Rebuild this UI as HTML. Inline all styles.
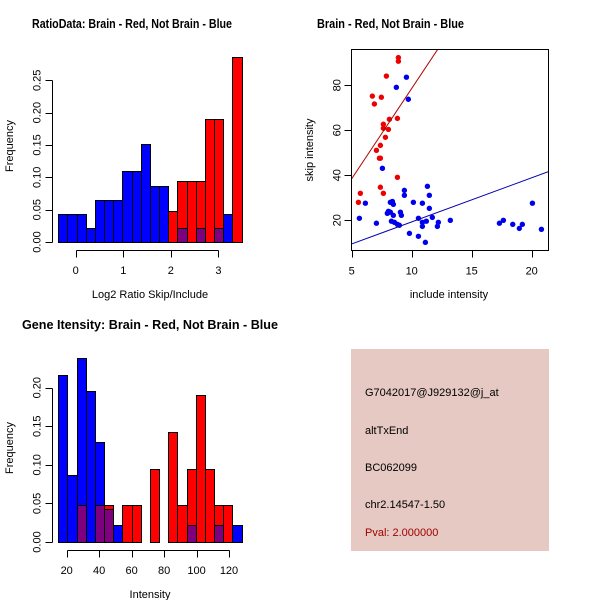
<!DOCTYPE html>
<html><head><meta charset="utf-8"><style>
html,body{margin:0;padding:0;background:#fff;}
svg{display:block;font-family:"Liberation Sans",sans-serif;}
</style></head><body>
<svg id="c" width="600" height="600" viewBox="0 0 600 600" xmlns="http://www.w3.org/2000/svg">
<rect width="600" height="600" fill="#fff"/>
<text x="32" y="28" font-size="12.5" font-weight="bold" textLength="200" lengthAdjust="spacingAndGlyphs">RatioData: Brain - Red, Not Brain - Blue</text>
<text x="317" y="28" font-size="12.5" font-weight="bold" textLength="147" lengthAdjust="spacingAndGlyphs">Brain - Red, Not Brain - Blue</text>
<text x="22" y="329" font-size="12.5" font-weight="bold" textLength="256" lengthAdjust="spacingAndGlyphs">Gene Itensity: Brain - Red, Not Brain - Blue</text>
<g>
<rect x="351" y="349" width="198" height="202" fill="#e5c9c2"/>
<text x="365" y="396" font-size="11">G7042017@J929132@j_at</text>
<text x="365" y="434" font-size="11">altTxEnd</text>
<text x="365" y="471" font-size="11">BC062099</text>
<text x="365" y="508" font-size="11">chr2.14547-1.50</text>
<text x="365" y="536" font-size="11" fill="#a00000">Pval: 2.000000</text>
</g>
</svg>
<script>
// ---- Ratio histogram data ----
const ratioBinStart = -0.366;
const ratioBinWidth = 0.1927;
const ratioBlue = [0.043,0.043,0.043,0.022,0.065,0.065,0.065,0.109,0.109,0.152,0.087,0.087,0,0.022,0,0.022,0,0.022,0.043,0];
const ratioRed  = [0,0,0,0,0,0,0,0,0,0,0,0,0.048,0.095,0.095,0.095,0.19,0.19,0,0.286];
const ratioXTicks = [0,1,2,3];
const ratioYTicks = [0,0.05,0.10,0.15,0.20,0.25];
const ratioYLabels = ["0.00","0.05","0.10","0.15","0.20","0.25"];
// ---- Intensity histogram data ----
const intBinStart = 14.8;
const intBinWidth = 5.65;
const intBlue = [0.217,0.087,0.239,0.196,0.130,0.043,0.022,0,0,0,0,0,0,0,0.022,0,0,0.022,0,0.022];
const intRed  = [0,0,0.048,0,0.048,0.048,0,0.048,0.048,0,0.095,0,0.143,0.048,0.095,0.19,0.095,0.048,0.048,0];
const intXTicks = [20,40,60,80,100,120];
const intYTicks = [0,0.05,0.10,0.15,0.20];
const intYLabels = ["0.00","0.05","0.10","0.15","0.20"];
// ---- Scatter data ----
const redX = [8.89,8.89,7.89,6.72,7.47,6.89,8.14,8.81,7.64,7.64,8.06,7.81,7.39,7.06,7.31,7.39,8.81,7.39,7.64,5.72,5.56];
const redY = [92.3,90.7,84.1,75.2,74.7,71.7,64.9,65.3,62.7,60.9,60.4,56.9,53.3,51.1,47.6,47.6,39.1,34.7,32.0,32.0,28.0];
const blueX = [9.56,8.72,9.72,7.56,11.31,9.39,9.39,11.47,10.14,10.89,8.22,8.39,8.47,6.14,11.47,8.06,8.22,7.97,9.06,9.14,8.47,11.72,5.64,10.56,13.22,10.89,11.22,12.22,7.06,8.31,8.56,8.81,8.97,10.89,12.14,9.81,10.56,11.14,17.31,17.64,18.42,18.97,19.22,20.06,20.81];
const blueY = [83.6,79.1,73.8,43.1,35.1,33.3,31.1,31.1,28.0,27.6,28.0,28.4,27.1,27.6,25.3,24.0,23.6,23.1,23.6,22.2,22.2,21.3,20.9,20.9,20.0,19.1,19.6,19.1,18.7,19.6,19.1,18.2,17.8,17.3,17.3,14.2,12.9,10.2,18.7,20.0,18.2,16.4,18.2,27.6,16.0];
const redFit = [38.5, 8.02];   // intercept at x=5, slope
const blueFit = [9.5, 1.96];
const scXTicks = [5,10,15,20];
const scYTicks = [20,40,60,80];

const NS="http://www.w3.org/2000/svg";
const svg=document.getElementById('c');
function mk(tag,attrs,parent){const e=document.createElementNS(NS,tag);for(const k in attrs)e.setAttribute(k,attrs[k]);(parent||svg).appendChild(e);return e;}
const px=v=>Math.round(v)+0.5;

function hist(cfg){
  const g=mk('g',{});
  
  
  const sx=v=>cfg.x0+(v-cfg.xv0)*cfg.kx;
  const sy=v=>cfg.y0-v*cfg.ky;
  const n=cfg.blue.length;
  for(let i=0;i<n;i++){
    const a=cfg.start+i*cfg.w, b=a+cfg.w;
    const x=px(sx(a)), x2=px(sx(b));
    const bl=cfg.blue[i], rd=cfg.red[i];
    const hi=Math.max(bl,rd), lo=Math.min(bl,rd);
    const base=px(sy(0));
    if(hi>0){
      const yt=px(sy(hi));
      const r=mk('rect',{x:x,y:yt,width:x2-x,height:base-yt,fill:bl>=rd?'#0000ff':'#ff0000',stroke:'#000','stroke-width':1},g);
      
      
    }
    if(lo>0){
      const yt=px(sy(lo));
      const r=mk('rect',{x:x,y:yt,width:x2-x,height:base-yt,fill:'#7f007f',stroke:'#000','stroke-width':1},g);
      
      
    }
  }
  const yt=cfg.yTicks;
  const ax=px(cfg.yAxisX);
  mk('line',{x1:ax,x2:ax,y1:px(sy(yt[0])),y2:px(sy(yt[yt.length-1])),stroke:'#000'},g);
  yt.forEach((t,i)=>{
    mk('line',{x1:ax-7,x2:ax,y1:px(sy(t)),y2:px(sy(t)),stroke:'#000'},g);
    const tx=mk('text',{x:0,y:0,'font-size':11,'text-anchor':'middle',transform:`translate(${cfg.yAxisX-11},${sy(t)}) rotate(-90)`},g);
    tx.textContent=cfg.yLabels[i];
    
    
  });
  const xt=cfg.xTicks;
  const ay=px(cfg.xAxisY);
  mk('line',{x1:px(sx(xt[0])),x2:px(sx(xt[xt.length-1])),y1:ay,y2:ay,stroke:'#000'},g);
  xt.forEach(t=>{
    mk('line',{x1:px(sx(t)),x2:px(sx(t)),y1:ay,y2:ay+7,stroke:'#000'},g);
    const tx=mk('text',{x:sx(t),y:cfg.xAxisY+24,'font-size':11,'text-anchor':'middle'},g);
    tx.textContent=String(t);
    
    
  });
  const xl=mk('text',{x:cfg.xlabX,y:cfg.xAxisY+48,'font-size':11,'text-anchor':'middle'},g);
  xl.textContent=cfg.xlab;
  
  
  const yl=mk('text',{x:0,y:0,'font-size':11,'text-anchor':'middle',transform:`translate(13,${cfg.ylabY}) rotate(-90)`},g);
  yl.textContent='Frequency';
  
  
}

hist({name:'ratio-histogram',blue:ratioBlue,red:ratioRed,start:ratioBinStart,w:ratioBinWidth,
  x0:75.7,xv0:0,kx:47.56,y0:242,ky:646.8,yAxisX:51.7,xAxisY:250,
  xTicks:ratioXTicks,yTicks:ratioYTicks,yLabels:ratioYLabels,xlab:'Log2 Ratio Skip/Include',xlabX:150,ylabY:146});
hist({name:'intensity-histogram',blue:intBlue,red:intRed,start:intBinStart,w:intBinWidth,
  x0:66.7,xv0:20,kx:1.623,y0:542,ky:771.5,yAxisX:51.7,xAxisY:550,
  xTicks:intXTicks,yTicks:intYTicks,yLabels:intYLabels,xlab:'Intensity',xlabX:150,ylabY:448});

(function(){
  const g=mk('g',{});
  
  
  const L=351.5,R=548.5,T=49.5,B=250.5;
  const sx=v=>351.7+(v-5)*12;
  const sy=v=>220.3-(v-20)*2.25;
  const cp=mk('clipPath',{id:'scclip'},g);
  mk('rect',{x:L,y:T,width:R-L,height:B-T},cp);
  [[redX,redY,'#ee0000','red'],[blueX,blueY,'#0000ee','blue']].forEach(([xs,ys,col,nm])=>{
    xs.forEach((x,i)=>{
      const c=mk('circle',{cx:sx(x),cy:sy(ys[i]),r:2.7,fill:col},g);
      
      
    });
  });
  [[redFit,'#b00000','fit-line-red'],[blueFit,'#0000b0','fit-line-blue']].forEach(([f,col,nm])=>{
    const x1=5,x2=21.4;
    const l=mk('line',{x1:sx(x1),y1:sy(f[0]),x2:sx(x2),y2:sy(f[0]+f[1]*(x2-x1)),stroke:col,'stroke-width':1,'clip-path':'url(#scclip)'},g);
    
    
  });
  mk('rect',{x:L,y:T,width:R-L,height:B-T,fill:'none',stroke:'#000'},g);
  scXTicks.forEach(t=>{
    mk('line',{x1:px(sx(t)),x2:px(sx(t)),y1:B,y2:B+7,stroke:'#000'},g);
    const tx=mk('text',{x:sx(t),y:B+24,'font-size':11,'text-anchor':'middle'},g);
    tx.textContent=String(t);
    
    
  });
  scYTicks.forEach(t=>{
    mk('line',{x1:L-7,x2:L,y1:px(sy(t)),y2:px(sy(t)),stroke:'#000'},g);
    const tx=mk('text',{x:0,y:0,'font-size':11,'text-anchor':'middle',transform:`translate(${L-11},${sy(t)}) rotate(-90)`},g);
    tx.textContent=String(t);
    
    
  });
  const xl=mk('text',{x:449,y:298,'font-size':11,'text-anchor':'middle'},g);
  xl.textContent='include intensity';
  
  
  const yl=mk('text',{x:0,y:0,'font-size':11,'text-anchor':'middle',transform:'translate(313,150) rotate(-90)'},g);
  yl.textContent='skip intensity';
  
  
})();
</script>
</body></html>
